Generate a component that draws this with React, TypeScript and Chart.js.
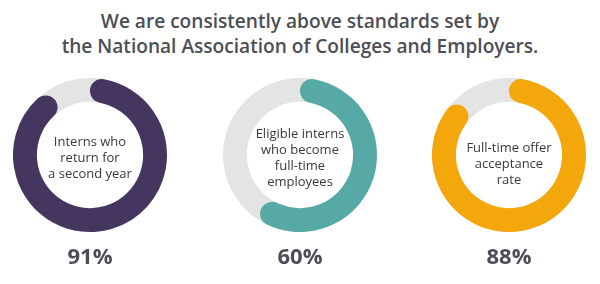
import React, { useEffect, useRef } from "react";
import { Chart, registerables } from "chart.js";

Chart.register(...registerables);

const title = ["We are consistently above standards set by", "the National Association of Colleges and Employers."];
const categories = [
  ["Interns who", "return for", "a second year"],
  ["Eligible interns", "who become", "full-time", "employees"],
  ["Full-time offer", "acceptance", "rate"],
];
const values = [91, 60, 88];
const colors = ["#45365f", "#56a9a4", "#f3a70b"];
const trackColor = "#e4e4e4";
const centersX = [90, 300, 509];
const centerY = 155;
const radius = 77;
const FONT = "'Open Sans', 'DejaVu Sans', sans-serif";

const trackPlugin = {
  id: "track",
  beforeDatasetsDraw(chart: any) {
    const meta = chart.getDatasetMeta(0);
    const arc: any = meta.data[0];
    if (!arc) return;
    const { x, y, outerRadius, innerRadius } = arc.getProps(["x", "y", "outerRadius", "innerRadius"], true);
    const ctx = chart.ctx;
    ctx.save();
    ctx.beginPath();
    ctx.arc(x, y, outerRadius, 0, Math.PI * 2);
    ctx.arc(x, y, innerRadius, Math.PI * 2, 0, true);
    ctx.closePath();
    ctx.fillStyle = trackColor;
    ctx.fill();
    ctx.restore();
  },
};

function Donut({ value, color }: { value: number; color: string }) {
  const ref = useRef<HTMLCanvasElement>(null);
  useEffect(() => {
    const chart = new Chart(ref.current!, {
      type: "doughnut",
      data: {
        labels: ["value", "rest"],
        datasets: [
          {
            data: [value, 100 - value],
            backgroundColor: [color, "rgba(0,0,0,0)"],
            borderWidth: 0,
            borderRadius: (c: any) => (c.dataIndex === 0 ? 30 : 0),
          } as any,
        ],
      },
      options: {
        responsive: false,
        animation: false,
        cutout: "69%",
        rotation: 0,
        layout: { padding: 0 },
        plugins: { legend: { display: false }, tooltip: { enabled: false } },
      },
      plugins: [trackPlugin],
    });
    return () => chart.destroy();
  }, [value, color]);
  return <canvas ref={ref} width={radius * 2} height={radius * 2} style={{ width: radius * 2, height: radius * 2, display: "block" }} />;
}

export default function App() {
  return (
    <div style={{ position: "fixed", left: 0, top: 0, width: 600, height: 284, background: "#fff", fontFamily: FONT, color: "#4b4e56" }}>
      <div style={{ position: "absolute", left: 0, top: 9, width: 600, textAlign: "center", fontSize: 19.1, lineHeight: "25px", fontWeight: 600 }}>
        {title.map((t, i) => (
          <div key={i}>{t}</div>
        ))}
      </div>
      {values.map((v, i) => (
        <div key={i}>
          <div style={{ position: "absolute", left: centersX[i] - radius, top: centerY - radius }}>
            <Donut value={v} color={colors[i]} />
          </div>
          <div
            style={{
              position: "absolute",
              left: centersX[i] - 55,
              width: 110,
              top: centerY + (i === 2 ? 8 : 2) - (categories[i].length * 16) / 2,
              textAlign: "center",
              fontSize: 13,
              lineHeight: "16px",
              color: "#3a3a3a",
            }}
          >
            {categories[i].map((l, j) => (
              <div key={j}>{l}</div>
            ))}
          </div>
          <div
            style={{
              position: "absolute",
              left: centersX[i] - 60,
              width: 120,
              top: 240,
              textAlign: "center",
              fontSize: 22,
              lineHeight: "30px",
              fontWeight: 700,
            }}
          >
            {v}%
          </div>
        </div>
      ))}
    </div>
  );
}
